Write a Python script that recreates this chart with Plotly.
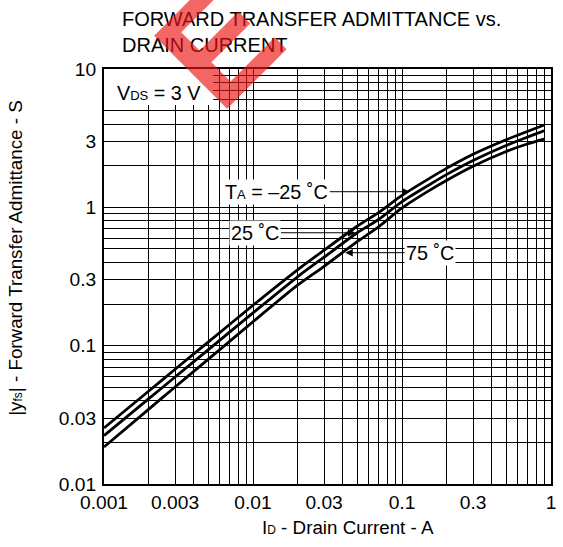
import numpy as np
import plotly.graph_objects as go

# ---------------- data ----------------
drain_current = [0.001, 0.002, 0.003, 0.005, 0.01, 0.02, 0.03, 0.05, 0.07, 0.1,
                 0.15, 0.2, 0.3, 0.5, 0.7, 0.9]
yfs_m25 = [0.0254, 0.047, 0.0675, 0.106, 0.196, 0.355, 0.49, 0.73, 0.92, 1.22,
           1.60, 1.92, 2.42, 3.08, 3.55, 3.94]
yfs_25 = [0.0224, 0.0414, 0.0594, 0.0933, 0.1725, 0.316, 0.436, 0.655, 0.82, 1.10,
          1.44, 1.73, 2.18, 2.80, 3.23, 3.58]
yfs_75 = [0.0185, 0.0348, 0.0503, 0.0795, 0.149, 0.275, 0.375, 0.565, 0.725, 0.99,
          1.31, 1.57, 1.98, 2.53, 2.88, 3.11]

x_tick_vals = [m * 10.0 ** e for e in (-3, -2, -1) for m in range(1, 10)] + [1.0]
x_tick_labels = {0.001: "0.001", 0.003: "0.003", 0.01: "0.01", 0.03: "0.03",
                 0.1: "0.1", 0.3: "0.3", 1.0: "1"}
y_tick_vals = [m * 10.0 ** e for e in (-2, -1, 0) for m in range(1, 10)] + [10.0]
y_tick_labels = {0.01: "0.01", 0.03: "0.03", 0.1: "0.1", 0.3: "0.3",
                 1.0: "1", 3.0: "3", 10.0: "10"}


def label_for(v, table):
    for k, t in table.items():
        if abs(v - k) / k < 1e-6:
            return t
    return ""


FONT = "Liberation Sans, Arial, Helvetica, sans-serif"
fig = go.Figure()
for ys in (yfs_m25, yfs_25, yfs_75):
    fig.add_trace(go.Scatter(x=drain_current, y=ys, mode="lines",
                             line=dict(color="black", width=2.8, shape="spline", smoothing=0.6),
                             showlegend=False, hoverinfo="skip"))

axis_common = dict(type="log", showgrid=True, gridcolor="#000", gridwidth=1,
                   showline=True, mirror=True, linecolor="black", linewidth=2,
                   ticks="", zeroline=False,
                   tickfont=dict(family=FONT, size=19.2, color="black"))

fig.update_xaxes(range=[-3, 0], tickmode="array", tickvals=x_tick_vals,
                 ticktext=[label_for(v, x_tick_labels) for v in x_tick_vals], **axis_common)
fig.update_yaxes(range=[-2, 1], tickmode="array", tickvals=y_tick_vals, ticklabelstandoff=2,
                 ticktext=[label_for(v, y_tick_labels) for v in y_tick_vals], **axis_common)

# white box behind the VDS label (hides the grid)
fig.add_shape(type="rect", xref="x", yref="y", x0=0.001, x1=0.0054, y0=5.5, y1=10,
              fillcolor="white", line=dict(width=0), layer="between")

ann_font = dict(family=FONT, size=19.8, color="black")
C = dict(xanchor="center", yanchor="middle")
# V_DS label
fig.add_annotation(xref="paper", yref="paper", x=0.122, y=0.942, showarrow=False,
                   text="V<span style='font-size:13px'>DS</span> = 3 V", font=ann_font, **C)

# curve labels with arrows
arrow_style = dict(font=ann_font, bgcolor="white", showarrow=True, arrowhead=2,
                   arrowsize=1.5, arrowwidth=1, arrowcolor="black", standoff=0, borderpad=1)
fig.add_annotation(xref="x", yref="y", x=np.log10(0.1127), y=np.log10(1.297),
                   ax=-133, ay=0, text="T<span style='font-size:13px'>A</span> = –25 ˚C",
                   **arrow_style)
fig.add_annotation(xref="x", yref="y", x=np.log10(0.0487), y=np.log10(0.655),
                   ax=-100, ay=0, text="25 ˚C", **arrow_style)
fig.add_annotation(xref="x", yref="y", x=np.log10(0.0416), y=np.log10(0.47),
                   ax=85, ay=0, text="75 ˚C", **arrow_style)

# title
fig.add_annotation(xref="paper", yref="paper", x=0.035, y=1.151, xanchor="left", yanchor="top",
                   align="left", showarrow=False,
                   text="FORWARD TRANSFER ADMITTANCE vs.<br>DRAIN CURRENT",
                   font=dict(family=FONT, size=20, color="black"))

# axis titles
fig.add_annotation(xref="paper", yref="paper", x=0.5465, y=-0.104, showarrow=False,
                   text="I<span style='font-size:12px'>D</span> - Drain Current - A",
                   font=dict(family=FONT, size=18.8, color="black"), **C)
fig.add_annotation(xref="paper", yref="paper", x=-0.197, y=0.545, showarrow=False, textangle=-90,
                   text="|y<span style='font-size:12px'>fs</span>| - Forward Transfer Admittance - S",
                   font=dict(family=FONT, size=18.8, color="black"), **C)

# watermark
fig.add_annotation(xref="paper", yref="paper", x=0.4883, y=1.310, showarrow=False, textangle=-45,
                   text="<b>E O L</b>", font=dict(family=FONT, size=150, color="rgba(235,20,20,0.65)"),
                   **C)

fig.update_layout(width=563, height=547, margin=dict(l=104, r=7, t=69, b=63),
                  plot_bgcolor="white", paper_bgcolor="white")

fig.write_html("out.html", config={"displayModeBar": False},
               post_script="document.body.style.margin='0';document.body.style.padding='0';")
